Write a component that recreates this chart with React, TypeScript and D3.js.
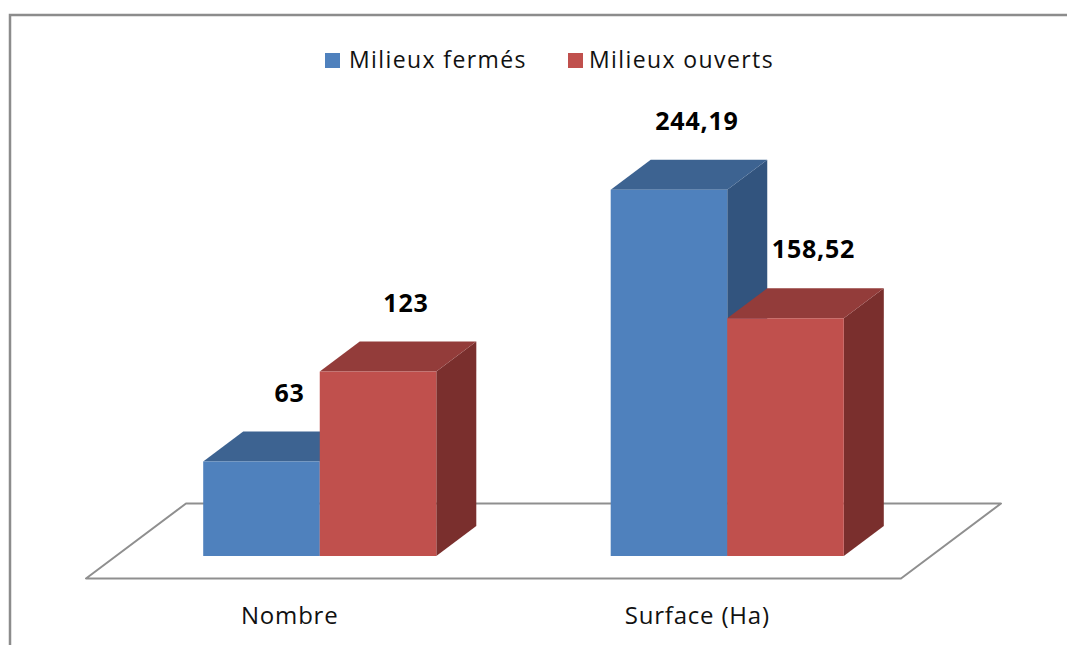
import React from "react";
import * as d3 from "d3";

const categories = ["Nombre", "Surface (Ha)"];
const seriesNames = ["Milieux fermés", "Milieux ouverts"];
const fermes = [63, 244.19];
const ouverts = [123, 158.52];
const valueLabels = [["63", "244,19"], ["123", "158,52"]];

const W = 1067;
const H = 645;
const FONT = "'Open Sans', 'Liberation Sans', sans-serif";

const colors = [
  { front: "#4f81bd", top: "#3d6391", side: "#32547e" },
  { front: "#c0504d", top: "#933c3a", side: "#7a2f2d" },
];

export default function App() {
  const floorLeft = 86;
  const floorRight = 901;
  const floorFrontY = 578.5;
  const depthDX = 100;
  const depthDY = -75;
  const z0 = 0.3;
  const z1 = 0.7;

  const x0 = d3.scaleBand<string>().domain(categories).range([floorLeft, floorRight]).paddingInner(0.428).paddingOuter(0.214);
  const x1 = d3.scaleBand<string>().domain(seriesNames).range([0, x0.bandwidth()]).padding(0);
  const y = d3.scaleLinear().domain([0, 300]).range([floorFrontY, floorFrontY - 450]);

  const proj = (x: number, v: number, z: number): [number, number] => [x + z * depthDX, y(v) + z * depthDY];
  const pts = (arr: [number, number][]) => arr.map((p) => p.join(",")).join(" ");

  const data = [fermes, ouverts];

  const bars: React.ReactNode[] = [];
  const labels: React.ReactNode[] = [];
  categories.forEach((cat, ci) => {
    seriesNames.forEach((s, si) => {
      const v = data[si][ci];
      const xl = (x0(cat) as number) + (x1(s) as number);
      const xr = xl + x1.bandwidth();
      const c = colors[si];
      const front = [proj(xl, 0, z0), proj(xr, 0, z0), proj(xr, v, z0), proj(xl, v, z0)];
      const top = [proj(xl, v, z0), proj(xr, v, z0), proj(xr, v, z1), proj(xl, v, z1)];
      const side = [proj(xr, 0, z0), proj(xr, 0, z1), proj(xr, v, z1), proj(xr, v, z0)];
      bars.push(
        <g key={`${ci}-${si}`}>
          <polygon points={pts(side as [number, number][])} fill={c.side} />
          <polygon points={pts(top as [number, number][])} fill={c.top} />
          <polygon points={pts(front as [number, number][])} fill={c.front} />
        </g>
      );
      const backTop = proj((xl + xr) / 2, v, z1);
      labels.push(
        <text key={`l-${ci}-${si}`} x={backTop[0] - 12} y={backTop[1] - 30} textAnchor="middle" fontFamily={FONT} fontWeight="bold" fontSize={25} letterSpacing={0.8} fill="#000">
          {valueLabels[si][ci]}
        </text>
      );
    });
  });

  const floor: [number, number][] = [
    [floorLeft, floorFrontY],
    [floorRight, floorFrontY],
    [floorRight + depthDX, floorFrontY + depthDY],
    [floorLeft + depthDX, floorFrontY + depthDY],
  ];

  const legendItems = [
    { name: seriesNames[0], sx: 325, tx: 349 },
    { name: seriesNames[1], sx: 568, tx: 589 },
  ];

  return (
    <svg width={W} height={H} style={{ position: "absolute", left: 0, top: 0, background: "#fff" }}>
      <rect x={0} y={0} width={W} height={H} fill="#fff" />
      <rect x={10} y={15} width={1100} height={700} fill="#fff" stroke="#8c8c8c" strokeWidth={2.5} />
      <polygon points={pts(floor)} fill="#fff" stroke="#8f8f8f" strokeWidth={2} strokeLinejoin="round" />
      {bars}
      {labels}
      {categories.map((cat) => (
        <text key={cat} x={(x0(cat) as number) + x0.bandwidth() / 2} y={624} textAnchor="middle" fontFamily={FONT} fontSize={24} letterSpacing={0.8} fill="#111">
          {cat}
        </text>
      ))}
      {legendItems.map((it, i) => (
        <g key={it.name}>
          <rect x={it.sx} y={53} width={15} height={15} fill={colors[i].front} />
          <text x={it.tx} y={68} fontFamily={FONT} fontSize={23} letterSpacing={1.4} fill="#111">
            {it.name}
          </text>
        </g>
      ))}
    </svg>
  );
}
